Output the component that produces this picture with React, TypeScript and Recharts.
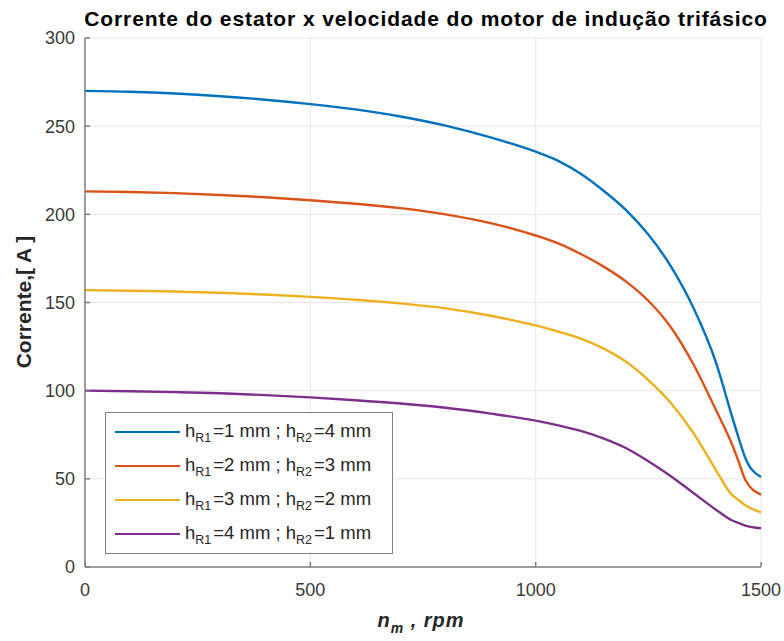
import React from 'react';
import {
  LineChart,
  Line,
  XAxis,
  YAxis,
  CartesianGrid,
  Legend,
} from 'recharts';

// rotação do motor (rpm) e corrente do estator (A) para cada geometria de barra
const rpm = [0, 100, 200, 300, 400, 500, 600, 700, 800, 900, 1000, 1050, 1100, 1150, 1200, 1250, 1300, 1350, 1400, 1435, 1450, 1465, 1500];
const iR1_1 = [270, 269.5, 268.5, 267, 265, 262.5, 259.5, 255.5, 250.3, 243.6, 235.5, 230.3, 223, 213.5, 202.5, 188.5, 170.5, 147, 116, 86, 73.5, 62, 51];
const iR1_2 = [213, 212.7, 212, 211, 209.7, 208, 206, 203.5, 200, 195, 188, 183.5, 177.5, 170.5, 162, 151, 136, 115, 89, 70, 60, 49.5, 41];
const iR1_3 = [157, 156.7, 156.2, 155.5, 154.5, 153.2, 151.6, 149.5, 146.7, 142.5, 137, 133.5, 129.5, 124, 116.5, 106, 93, 76, 55, 41, 38, 35, 31];
const iR1_4 = [100, 99.7, 99.2, 98.5, 97.5, 96.2, 94.6, 92.7, 90.3, 87, 83, 80.3, 77.2, 73, 67.5, 60, 51.5, 42, 32.5, 26.5, 25, 23.5, 22];

const xTicks = [0, 500, 1000, 1500];
const yTicks = [0, 50, 100, 150, 200, 250, 300];

const series = [
  { key: 'a', hR1: '1', hR2: '4', color: '#0072BD', values: iR1_1 },
  { key: 'b', hR1: '2', hR2: '3', color: '#D95319', values: iR1_2 },
  { key: 'c', hR1: '3', hR2: '2', color: '#EDB120', values: iR1_3 },
  { key: 'd', hR1: '4', hR2: '1', color: '#7E2F8E', values: iR1_4 },
];

const data = rpm.map((n, i) => {
  const row: Record<string, number> = { rpm: n };
  series.forEach((s) => {
    row[s.key] = s.values[i];
  });
  return row;
});

const FONT = '"Liberation Sans", Arial, Helvetica, sans-serif';
const AXIS = '#7f7f7f';
const TICK_TEXT = '#3a3a3a';

const subStyle: React.CSSProperties = { fontSize: 12.5, verticalAlign: -5, marginRight: 2 };

const renderLegend = () => (
  <div
    style={{
      width: 288,
      boxSizing: 'border-box',
      border: `1.5px solid ${AXIS}`,
      background: '#fff',
      padding: '2px 0',
      fontFamily: FONT,
      fontSize: 18.5,
      color: '#262626',
    }}
  >
    {series.map((s) => (
      <div key={s.key} style={{ display: 'flex', alignItems: 'center', height: 34 }}>
        <div style={{ width: 65, height: 2.5, background: s.color, marginLeft: 9, marginRight: 5 }} />
        <span style={{ whiteSpace: 'nowrap' }}>
          h<sub style={subStyle}>R1</sub>={s.hR1} mm ; h<sub style={subStyle}>R2</sub>={s.hR2} mm
        </span>
      </div>
    ))}
  </div>
);

const XLabel = () => (
  <text
    x={421}
    y={627}
    textAnchor="middle"
    fontFamily={FONT}
    fontWeight="bold"
    fontStyle="italic"
    fontSize={20}
    letterSpacing={1}
    fill="#262626"
  >
    n
    <tspan fontSize={14} dy={6}>m</tspan>
    <tspan dy={-6}> , rpm</tspan>
  </text>
);

const YLabel = () => (
  <text
    x={0}
    y={0}
    transform="translate(31,302) rotate(-90)"
    textAnchor="middle"
    fontFamily={FONT}
    fontWeight="bold"
    fontSize={21}
    fill="#262626"
  >
    Corrente,[ A ]
  </text>
);

export default function App() {
  return (
    <div style={{ position: 'absolute', left: 0, top: 0, width: 784, height: 641, background: '#fff' }}>
      <div
        style={{
          position: 'absolute',
          left: 0,
          width: 852,
          top: 7,
          textAlign: 'center',
          fontFamily: FONT,
          fontWeight: 'bold',
          fontSize: 21,
          letterSpacing: 0.9,
          color: '#000',
          zIndex: 2,
          whiteSpace: 'nowrap',
        }}
      >
        Corrente do estator x velocidade do motor de indução trifásico
      </div>
      <LineChart
        width={784}
        height={641}
        data={data}
        margin={{ top: 38, right: 23, bottom: 44, left: 25 }}
      >
        <CartesianGrid stroke="#e6e6e6" strokeWidth={1} />
        <XAxis
          dataKey="rpm"
          type="number"
          domain={[0, 1500]}
          ticks={xTicks}
          height={30}
          stroke={AXIS}
          strokeWidth={1.5}
          tickSize={-5}
          tickMargin={21}
          tick={{ fill: TICK_TEXT, fontSize: 18, fontFamily: FONT }}
          label={<XLabel />}
        />
        <XAxis
          xAxisId="top"
          orientation="top"
          dataKey="rpm"
          type="number"
          domain={[0, 1500]}
          ticks={xTicks}
          height={0}
          stroke={AXIS}
          strokeWidth={1.5}
          tickSize={-5}
          tick={false}
        />
        <YAxis
          type="number"
          domain={[0, 300]}
          ticks={yTicks}
          width={60}
          stroke={AXIS}
          strokeWidth={1.5}
          tickSize={-5}
          tickMargin={15}
          tick={{ fill: TICK_TEXT, fontSize: 18, fontFamily: FONT }}
          label={<YLabel />}
        />
        <YAxis
          yAxisId="right"
          orientation="right"
          type="number"
          domain={[0, 300]}
          ticks={yTicks}
          width={0}
          stroke={AXIS}
          strokeWidth={1.5}
          tickSize={-5}
          tick={false}
        />
        {series.map((s) => (
          <Line
            key={s.key}
            type="monotone"
            dataKey={s.key}
            stroke={s.color}
            strokeWidth={2.4}
            dot={false}
            isAnimationActive={false}
          />
        ))}
        <Legend
          layout="vertical"
          align="center"
          verticalAlign="middle"
          content={renderLegend}
          wrapperStyle={{ left: 105, top: 412, width: 288 }}
        />
      </LineChart>
    </div>
  );
}
